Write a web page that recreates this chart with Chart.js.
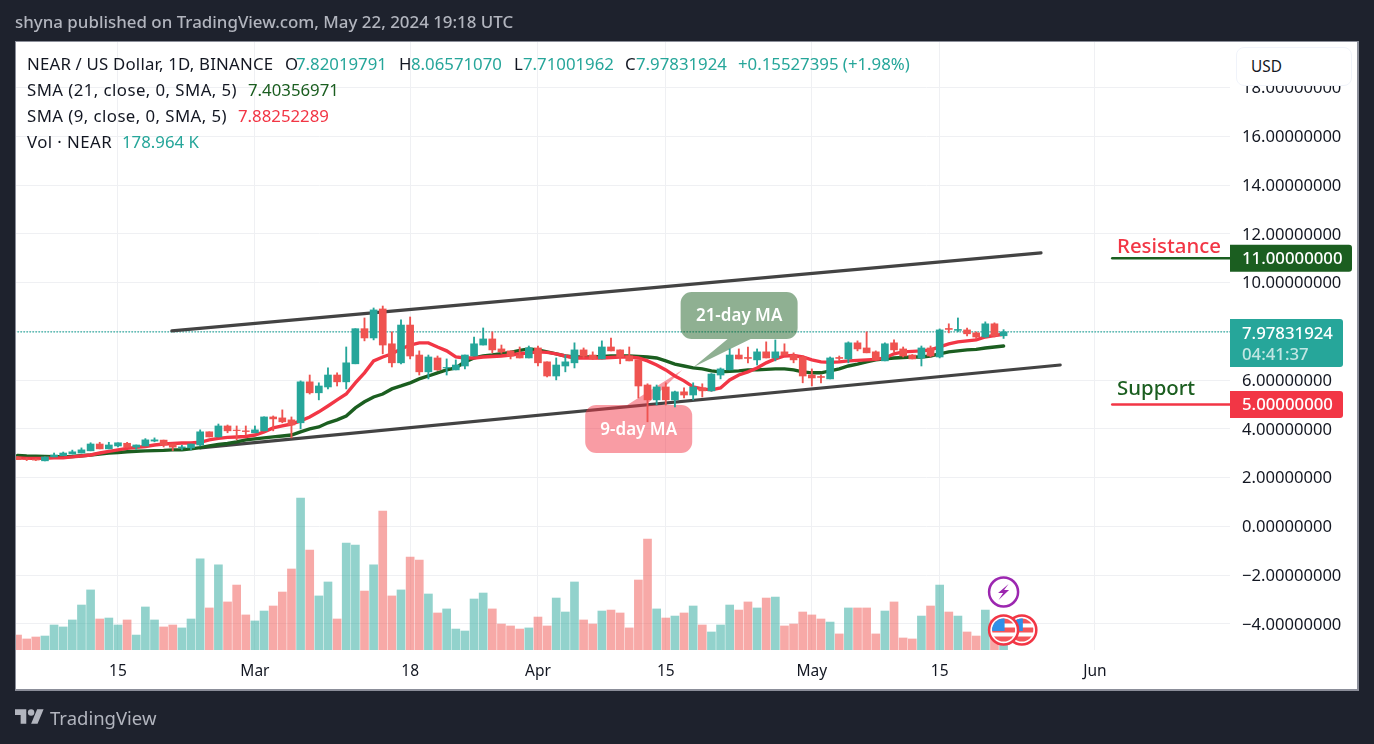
<!DOCTYPE html>
<html>
<head>
<meta charset="utf-8">
<title>NEAR / US Dollar</title>
<script src="https://cdn.jsdelivr.net/npm/chart.js@4"></script>
<style>
    html, body { margin: 0; padding: 0; width: 1374px; height: 744px; overflow: hidden; background: #1e222d; }
    body { font-family: "Noto Sans", sans-serif; color: #131722; }
    .panel { position: absolute; left: 15px; top: 41px; width: 1341px; height: 647px; background: #fff; border: 2px solid #8b8e99; border-width: 1.5px 2px 2px 1.5px; }
    canvas { position: absolute; left: 0; top: 0; }
    .txt { position: absolute; white-space: nowrap; line-height: 20px; }
    .legend { font-size: 16.8px; }
    .wide { letter-spacing: 0.44px; }
    .up { color: #26a69a; }
    .sma21 { color: #1b5e20; }
    .sma9 { color: #f23645; }
    .title { left: 15px; top: 12px; font-size: 16.9px; font-weight: 500; color: #b2b5be; }
    .usd { position: absolute; left: 1236px; top: 47px; width: 114px; height: 37px; background: #fff; border: 1.5px solid #f0f3fa; border-radius: 8px; font-size: 15.4px; line-height: 37px; text-indent: 14px; }
    .note { font-size: 20.4px; font-weight: 500; }
    .brand { left: 50px; top: 708px; font-size: 18.5px; color: #b2b5be; }
    .logo { position: absolute; left: 15px; top: 709px; }
</style>
</head>
<body>
<div class="panel"></div>
<canvas id="nearChart" width="1374" height="744"></canvas>

<div class="txt title">shyna published on TradingView.com, May 22, 2024 19:18 UTC</div>

<div class="txt legend" style="left:27px;top:54px;letter-spacing:0.2px">NEAR / US Dollar, 1D, BINANCE</div>
<div class="txt legend" style="left:285px;top:54px">O</div>
<div class="txt legend up" style="left:296px;top:54px">7.82019791</div>
<div class="txt legend" style="left:399px;top:54px">H</div>
<div class="txt legend up" style="left:411px;top:54px">8.06571070</div>
<div class="txt legend" style="left:514px;top:54px">L</div>
<div class="txt legend up" style="left:523px;top:54px">7.71001962</div>
<div class="txt legend" style="left:625px;top:54px">C</div>
<div class="txt legend up" style="left:636px;top:54px">7.97831924</div>
<div class="txt legend up" style="left:738px;top:54px">+0.15527395 (+1.98%)</div>

<div class="txt legend wide" style="left:27px;top:80px">SMA (21, close, 0, SMA, 5)</div>
<div class="txt legend sma21" style="left:248px;top:80px">7.40356971</div>
<div class="txt legend wide" style="left:27px;top:106px">SMA (9, close, 0, SMA, 5)</div>
<div class="txt legend sma9" style="left:238px;top:106px">7.88252289</div>
<div class="txt legend wide" style="left:27px;top:132px">Vol · NEAR</div>
<div class="txt legend up" style="left:122px;top:132px">178.964 K</div>

<div class="usd">USD</div>
<div class="txt note sma9" style="left:1117px;top:235px">Resistance</div>
<div class="txt note sma21" style="left:1117px;top:377px">Support</div>
<svg class="logo" width="29" height="15" viewBox="0 0 36 18"><path fill="#b2b5be" d="M14 18H7V7H0V0h14v18zM28 18h-8l7.5-18h8L28 18z"/><circle fill="#b2b5be" cx="20" cy="4" r="4"/></svg>
<div class="txt brand">TradingView</div>

<script>
// Daily candles, Feb 4 to May 22 2024
const firstDay = -11; // days relative to Feb 15
const opens = [
    2.84, 2.77, 2.76, 2.69, 2.85, 2.90, 2.97, 3.01, 3.10, 3.38, 3.18, 3.30, 3.41, 3.25, 3.30, 3.50, 3.54, 3.38, 3.22, 3.22, 3.34, 3.88, 3.67, 4.12, 3.95, 3.92,
    3.84, 3.92, 4.49, 4.45, 4.37, 4.25, 5.93, 5.48, 5.72, 6.21, 5.93, 6.67, 8.11, 7.73, 8.92, 7.49, 6.71, 8.26, 7.03, 6.34, 6.91, 6.50, 6.42, 6.58, 6.99, 7.44, 7.69, 7.28, 7.20, 7.03, 6.91,
    7.32, 6.75, 6.17, 6.58, 6.71, 7.24, 7.03, 6.87, 7.36, 7.24, 6.99, 6.83, 5.80, 5.19, 5.72, 5.19, 5.52, 5.39, 5.68, 5.56, 6.21, 6.42, 7.03, 6.93, 6.83, 7.16, 6.91, 7.16, 7.03, 6.95,
    6.21, 6.15, 6.05, 6.93, 6.87, 7.53, 7.32, 7.16, 6.79, 7.53, 7.28, 7.03, 6.91, 7.32, 6.95, 8.12, 8.04, 8.06, 7.94, 7.77, 8.31, 7.82
];
const highs = [
    2.86, 2.81, 2.78, 2.85, 3.01, 3.05, 3.13, 3.22, 3.43, 3.45, 3.45, 3.43, 3.45, 3.34, 3.60, 3.63, 3.54, 3.38, 3.33, 3.38, 3.96, 3.88, 4.20, 4.16, 4.12, 4.12,
    4.12, 4.49, 4.53, 4.78, 4.49, 5.97, 6.21, 5.89, 6.50, 6.30, 7.36, 8.11, 8.55, 8.96, 9.04, 7.98, 8.47, 8.59, 7.20, 7.03, 6.99, 6.87, 6.83, 7.03, 7.77, 8.14, 7.98, 7.44, 7.20, 7.36, 7.40,
    7.40, 6.75, 6.91, 7.03, 7.53, 7.32, 7.16, 7.61, 7.73, 7.24, 7.36, 6.83, 5.85, 5.80, 5.89, 5.55, 5.68, 5.89, 5.85, 6.27, 6.50, 7.28, 7.28, 7.36, 7.28, 7.57, 7.65, 7.49, 7.12, 7.00,
    6.46, 6.21, 6.95, 6.99, 7.57, 7.61, 7.98, 7.20, 7.53, 7.65, 7.36, 7.05, 7.40, 7.40, 8.10, 8.31, 8.55, 8.14, 7.98, 8.39, 8.35, 8.07
];
const lows = [
    2.74, 2.70, 2.70, 2.69, 2.85, 2.90, 2.97, 3.01, 3.10, 3.18, 3.18, 3.26, 3.25, 3.16, 3.30, 3.47, 3.26, 3.11, 3.14, 3.14, 3.30, 3.67, 3.67, 3.84, 3.55, 3.75,
    3.84, 3.92, 3.92, 4.25, 3.63, 4.00, 5.43, 5.19, 5.64, 5.76, 5.64, 6.67, 7.61, 7.65, 7.08, 6.54, 6.67, 6.87, 6.21, 6.05, 6.40, 6.21, 6.42, 6.46, 6.99, 7.44, 7.12, 7.10, 6.87, 6.91, 6.91,
    6.58, 6.13, 6.01, 6.34, 6.50, 6.91, 6.85, 6.87, 7.20, 6.67, 6.79, 5.27, 4.29, 4.98, 4.98, 4.90, 5.27, 5.19, 5.31, 5.54, 6.05, 6.42, 6.87, 6.71, 6.62, 6.91, 6.79, 7.03, 6.71, 5.89,
    5.76, 5.89, 6.05, 6.79, 6.71, 7.20, 7.12, 6.83, 6.79, 7.16, 6.95, 6.87, 6.58, 6.95, 6.91, 7.94, 7.98, 7.81, 7.69, 7.75, 7.77, 7.71
];
const closes = [
    2.74, 2.75, 2.72, 2.85, 2.93, 3.01, 3.06, 3.14, 3.38, 3.18, 3.34, 3.43, 3.25, 3.34, 3.55, 3.55, 3.34, 3.25, 3.26, 3.38, 3.88, 3.67, 4.12, 3.92, 3.93, 3.89,
    3.96, 4.49, 4.41, 4.29, 4.16, 5.93, 5.48, 5.76, 6.21, 5.93, 6.71, 8.11, 7.73, 8.88, 7.44, 6.71, 8.26, 6.99, 6.34, 6.95, 6.42, 6.52, 6.62, 7.03, 7.49, 7.69, 7.24, 7.16, 6.99, 6.91, 7.32,
    6.71, 6.17, 6.62, 6.75, 7.24, 6.99, 6.87, 7.36, 7.20, 6.95, 6.79, 5.76, 5.19, 5.72, 5.19, 5.52, 5.39, 5.72, 5.56, 6.25, 6.46, 7.03, 6.87, 6.89, 7.16, 6.91, 7.16, 7.03, 6.83, 6.17,
    6.09, 6.11, 6.91, 6.89, 7.53, 7.28, 7.12, 6.83, 7.49, 7.24, 6.99, 6.87, 7.32, 6.99, 8.06, 8.08, 8.08, 7.90, 7.77, 8.31, 7.81, 7.98
];
// Volume in thousands of NEAR
const volumes = [
    107, 79, 93, 100, 179, 165, 215, 322, 430, 222, 229, 179, 215, 107, 308, 215, 165, 179, 158, 222, 652, 301, 609, 344, 465, 251,
    208, 279, 315, 415, 580, 1088, 716, 387, 487, 222, 766, 752, 422, 609, 995, 387, 430, 666, 644, 401, 265, 294, 150, 136, 365, 408, 294, 186, 172, 150, 158,
    236, 172, 372, 272, 487, 215, 186, 279, 286, 265, 158, 501, 795, 294, 229, 243, 265, 315, 179, 129, 179, 322, 286, 344, 301, 372, 379, 172, 186, 272,
    251, 222, 200, 115, 301, 301, 301, 115, 279, 344, 86, 79, 243, 315, 465, 272, 243, 129, 100, 286, 215, 179
];
const sma9 = [
    2.81, 2.79, 2.79, 2.79, 2.81, 2.81, 2.85, 2.89, 2.93, 3.01, 3.08, 3.14, 3.20, 3.24, 3.28, 3.34, 3.38, 3.40, 3.42, 3.42, 3.45, 3.55, 3.61, 3.65, 3.67, 3.69,
    3.75, 3.88, 4.04, 4.12, 4.20, 4.33, 4.49, 4.70, 4.94, 5.19, 5.43, 5.89, 6.30, 6.79, 6.95, 7.08, 7.28, 7.44, 7.53, 7.53, 7.36, 7.20, 6.95, 6.91, 6.91, 6.95, 6.97, 6.99, 7.03, 7.08, 7.12,
    7.16, 7.14, 7.08, 6.99, 6.91, 6.91, 6.91, 6.91, 6.93, 6.95, 6.95, 6.91, 6.79, 6.62, 6.42, 6.17, 5.97, 5.72, 5.64, 5.60, 5.68, 6.01, 6.21, 6.34, 6.50, 6.71, 6.87, 6.99, 7.01, 6.95,
    6.83, 6.75, 6.73, 6.75, 6.79, 6.81, 6.83, 6.85, 6.91, 7.08, 7.16, 7.18, 7.20, 7.24, 7.36, 7.49, 7.57, 7.61, 7.65, 7.77, 7.83, 7.88
];
const sma21 = [
    2.91, 2.89, 2.88, 2.87, 2.86, 2.86, 2.87, 2.90, 2.93, 2.97, 3.01, 3.03, 3.06, 3.08, 3.10, 3.11, 3.12, 3.14, 3.14, 3.18, 3.23, 3.30, 3.36, 3.40, 3.47, 3.55,
    3.59, 3.63, 3.67, 3.71, 3.75, 3.88, 4.00, 4.08, 4.25, 4.37, 4.53, 4.86, 5.11, 5.31, 5.43, 5.64, 5.76, 5.89, 6.05, 6.17, 6.30, 6.42, 6.50, 6.75, 6.91, 6.99, 7.03, 7.08, 7.14, 7.22, 7.28,
    7.24, 7.16, 7.08, 6.99, 6.95, 6.95, 6.95, 6.97, 6.99, 6.99, 6.99, 6.97, 6.95, 6.91, 6.79, 6.66, 6.58, 6.50, 6.46, 6.38, 6.34, 6.36, 6.38, 6.42, 6.42, 6.44, 6.46, 6.46, 6.42, 6.34,
    6.30, 6.30, 6.38, 6.46, 6.58, 6.66, 6.75, 6.83, 6.87, 6.91, 6.93, 6.95, 6.95, 6.99, 7.08, 7.16, 7.20, 7.24, 7.26, 7.32, 7.36, 7.40
];

// Axis ticks
const tickDays = [0, 15, 32, 46, 60, 76, 90, 107];
const tickLabels = ['15', 'Mar', '18', 'Apr', '15', 'May', '15', 'Jun'];
const priceTicks = [-4, -2, 0, 2, 4, 6, 10, 12, 14, 16, 18];
const gridPrices = [-4, -2, 0, 2, 4, 6, 8, 10, 12, 14, 16, 18];

// Trend channel and levels, [day, price]
const upperChannel = [[5.9, 8.02], [101.1, 11.22]];
const lowerChannel = [[9, 3.22], [103.2, 6.62]];
const resistanceLine = [[108.9, 11], [122, 11]];
const supportLine = [[108.9, 5], [122, 5]];
const lastPrice = 7.97831924;

const TEAL = '#26a69a', CANDLE_RED = '#ef5350', MA_RED = '#f23645', MA_GREEN = '#1b5e20';
const GRID = '#eff0f3';
const UI_FONT = '"Noto Sans", sans-serif';

const days = opens.map((_, i) => firstDay + i);
const isUp = i => closes[i] >= opens[i];
const pairs = list => list.map(p => ({ x: p[0], y: p[1] }));
const lineSet = (data, color, width, order) => ({
    type: 'line', data, borderColor: color, borderWidth: width, pointRadius: 0, order,
    borderCapStyle: 'round', yAxisID: 'y', tension: 0
});

function roundedBox(ctx, x, y, w, h, r) {
    ctx.beginPath();
    ctx.roundRect(x, y, w, h, r);
    ctx.fill();
}

// Speech-bubble notes, painted just under the candles
const callouts = [
    { text: '21-day MA', tipDay: 63.05, tipPrice: 6.54, box: [-13, -75, 117, 47], base: [34, 57], fill: 'rgba(27,94,32,0.49)' },
    { text: '9-day MA', tipDay: 61.8, tipPrice: 6.42, box: [-97, 35, 107, 48], base: [-55, -36], fill: 'rgba(242,54,69,0.49)' }
];

const calloutPlugin = {
    id: 'callouts',
    beforeDatasetDraw(chart, args) {
        if (chart.data.datasets[args.index].label !== 'wicks') return;
        const ctx = chart.ctx;
        callouts.forEach(c => {
            const tx = chart.scales.x.getPixelForValue(c.tipDay);
            const ty = chart.scales.y.getPixelForValue(c.tipPrice);
            const bx = tx + c.box[0], by = ty + c.box[1], bw = c.box[2], bh = c.box[3];
            const edge = c.box[1] < 0 ? by + bh : by;
            ctx.save();
            ctx.fillStyle = c.fill;
            ctx.beginPath();
            ctx.roundRect(bx, by, bw, bh, 11);
            ctx.moveTo(tx + c.base[0], edge);
            ctx.lineTo(tx, ty);
            ctx.lineTo(tx + c.base[1], edge);
            ctx.closePath();
            ctx.fill();
            ctx.fillStyle = '#fff';
            ctx.font = '600 17px ' + UI_FONT;
            ctx.textAlign = 'center';
            ctx.textBaseline = 'middle';
            ctx.fillText(c.text, bx + bw / 2, by + bh / 2 + 1);
            ctx.restore();
        });
    }
};

// Price tags on the axis and the event badges over the volume
const axisTagPlugin = {
    id: 'axisTags',
    afterDraw(chart) {
        const ctx = chart.ctx, y = chart.scales.y, x = chart.scales.x, left = chart.chartArea.right;
        ctx.save();
        ctx.font = '500 16.8px ' + UI_FONT;
        ctx.textBaseline = 'middle';

        const tag = (price, w, color) => {
            const py = y.getPixelForValue(price);
            ctx.fillStyle = color;
            roundedBox(ctx, left, py - 13.5, w, 27, [0, 3, 3, 0]);
            ctx.fillStyle = '#fff';
            ctx.fillText(price.toFixed(8), left + 12, py + 1);
        };
        tag(11, 122, MA_GREEN);
        tag(5, 113, MA_RED);

        const py = y.getPixelForValue(lastPrice);
        ctx.fillStyle = TEAL;
        roundedBox(ctx, left, py - 13, 113, 48, [0, 3, 3, 0]);
        ctx.fillStyle = '#fff';
        ctx.fillText(lastPrice.toFixed(8), left + 12, py + 2);
        ctx.fillStyle = 'rgba(255,255,255,0.72)';
        ctx.fillText('04:41:37', left + 12, py + 23);

        // Event badges near the last bar
        const bottom = chart.chartArea.bottom;
        const bolt = x.getPixelForValue(97), boltY = bottom - 58;
        ctx.lineWidth = 2.5;
        ctx.strokeStyle = '#9c27b0';
        ctx.fillStyle = '#fff';
        ctx.beginPath();
        ctx.arc(bolt, boltY, 14.5, 0, Math.PI * 2);
        ctx.fill();
        ctx.stroke();
        ctx.fillStyle = '#9c27b0';
        ctx.beginPath();
        ctx.moveTo(bolt + 5, boltY - 8);
        ctx.lineTo(bolt - 5.5, boltY + 1);
        ctx.lineTo(bolt - 0.5, boltY + 1);
        ctx.lineTo(bolt - 5, boltY + 8);
        ctx.lineTo(bolt + 5.5, boltY - 2);
        ctx.lineTo(bolt + 0.5, boltY - 2);
        ctx.closePath();
        ctx.fill();

        [99, 97].forEach(day => drawFlag(ctx, x.getPixelForValue(day), bottom - 20));
        ctx.restore();
    }
};

function drawFlag(ctx, cx, cy) {
    ctx.save();
    ctx.fillStyle = '#fff';
    ctx.strokeStyle = MA_RED;
    ctx.lineWidth = 2.5;
    ctx.beginPath();
    ctx.arc(cx, cy, 14.5, 0, Math.PI * 2);
    ctx.fill();
    ctx.stroke();
    ctx.beginPath();
    ctx.arc(cx, cy, 11.5, 0, Math.PI * 2);
    ctx.clip();
    ctx.fillStyle = '#f4565a';
    ctx.fillRect(cx - 12, cy - 12, 24, 5.5);
    ctx.fillRect(cx - 12, cy - 2.5, 24, 5);
    ctx.fillRect(cx - 12, cy + 6.5, 24, 6);
    ctx.fillStyle = '#2f8fe8';
    ctx.fillRect(cx - 12, cy - 12, 13, 13);
    ctx.restore();
}

function buildDatasets() {
    return [
        {
            label: 'volume', yAxisID: 'yVol', grouped: false, barThickness: 8, order: 7,
            data: days.map((d, i) => ({ x: d, y: volumes[i] })),
            backgroundColor: days.map((d, i) => isUp(i) ? 'rgba(38,166,154,0.5)' : 'rgba(239,83,80,0.5)')
        },
        lineSet(pairs(upperChannel), '#434343', 3.2, 6),
        lineSet(pairs(lowerChannel), '#434343', 3.2, 6),
        lineSet(pairs(resistanceLine), MA_GREEN, 2.5, 6),
        lineSet(pairs(supportLine), MA_RED, 2.5, 6),
        Object.assign(lineSet(pairs([[-12, lastPrice], [122, lastPrice]]), TEAL, 1.2, 6), { borderDash: [1.5, 1.5], borderCapStyle: 'butt' }),
        lineSet(days.map((d, i) => ({ x: d, y: sma21[i] })), MA_GREEN, 3.4, 5),
        lineSet(days.map((d, i) => ({ x: d, y: sma9[i] })), MA_RED, 3.4, 4),
        {
            label: 'wicks', yAxisID: 'y', grouped: false, barThickness: 1.2, order: 3,
            data: days.map((d, i) => ({ x: d, y: [lows[i], highs[i]] })),
            backgroundColor: days.map((d, i) => isUp(i) ? TEAL : CANDLE_RED)
        },
        {
            label: 'bodies', yAxisID: 'y', grouped: false, barThickness: 7, order: 2,
            data: days.map((d, i) => ({ x: d, y: [opens[i], closes[i]] })),
            backgroundColor: days.map((d, i) => isUp(i) ? TEAL : CANDLE_RED)
        }
    ];
}

document.addEventListener('DOMContentLoaded', function() {
    new Chart(document.getElementById('nearChart'), {
        type: 'bar',
        data: { datasets: buildDatasets() },
        plugins: [calloutPlugin, axisTagPlugin],
        options: {
            responsive: false,
            animation: false,
            layout: { padding: { left: 16, top: 42, right: 15, bottom: 54 } },
            plugins: { legend: { display: false }, tooltip: { enabled: false } },
            scales: {
                x: {
                    type: 'linear', min: -11.17, max: 121.8, offset: false,
                    afterBuildTicks: s => { s.ticks = tickDays.map(v => ({ value: v })); },
                    afterFit: s => { s.height = 40; },
                    grid: { color: GRID, drawTicks: false, offset: false },
                    border: { display: false },
                    ticks: {
                        autoSkip: false, maxRotation: 0, padding: 12.5, color: '#131722',
                        font: { family: UI_FONT, size: 15.5 },
                        callback: v => tickLabels[tickDays.indexOf(v)]
                    }
                },
                y: {
                    type: 'linear', position: 'right', min: -5.07, max: 19.87,
                    afterBuildTicks: s => { s.ticks = gridPrices.map(v => ({ value: v })); },
                    afterFit: s => { s.width = 129; },
                    grid: { color: GRID, drawTicks: false },
                    border: { display: false },
                    ticks: {
                        padding: 12, color: '#131722', labelOffset: 1,
                        font: { family: UI_FONT, size: 16.6 },
                        // the 8 label sits under the last-price tag, so it stays unwritten
                        callback: v => priceTicks.includes(v) ? v.toFixed(8).replace('-', '\u2212') : ''
                    }
                },
                yVol: { type: 'linear', display: false, min: 0, max: 4353 }
            }
        }
    });
});
</script>
</body>
</html>
